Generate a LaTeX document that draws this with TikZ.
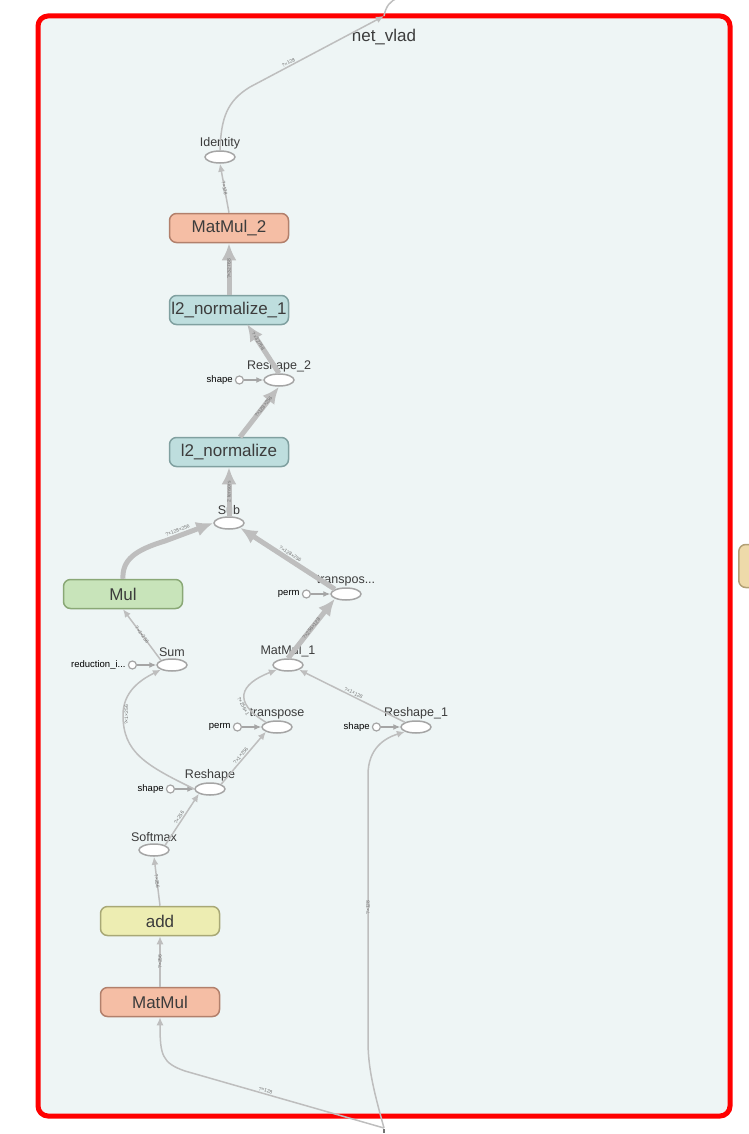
\documentclass[tikz,border=0pt]{standalone}
\usepackage{fontspec}
\setmainfont{Liberation Sans}
\usetikzlibrary{arrows.meta,shapes.geometric,positioning}

\definecolor{groupfill}{RGB}{238,245,245}
\definecolor{groupline}{RGB}{255,0,0}
\definecolor{edgegray}{RGB}{190,190,190}
\definecolor{opline}{RGB}{165,165,165}
\definecolor{txt}{RGB}{60,60,60}
\definecolor{matfill}{RGB}{245,190,165}
\definecolor{matline}{RGB}{178,128,108}
\definecolor{normfill}{RGB}{190,222,222}
\definecolor{normline}{RGB}{128,160,160}
\definecolor{mulfill}{RGB}{200,228,186}
\definecolor{mulline}{RGB}{138,168,118}
\definecolor{addfill}{RGB}{237,237,178}
\definecolor{addline}{RGB}{168,168,118}
\definecolor{extfill}{RGB}{238,218,170}
\definecolor{extline}{RGB}{178,160,118}

\begin{document}
\begin{tikzpicture}[
	x=1pt, y=-1pt,
	group/.style   = {draw=groupline, line width=5pt, fill=groupfill, rounded corners=10pt},
	meta/.style    = {draw, rounded corners=7pt, line width=1.5pt, minimum width=119pt, minimum height=29pt, inner xsep=1pt, text=txt, font=\fontsize{17}{17}\selectfont},
	matop/.style   = {meta, fill=matfill, draw=matline},
	normop/.style  = {meta, fill=normfill, draw=normline},
	mulop/.style   = {meta, fill=mulfill, draw=mulline},
	addop/.style   = {meta, fill=addfill, draw=addline},
	extop/.style   = {meta, fill=extfill, draw=extline, minimum width=60pt, minimum height=43pt},
	op/.style      = {ellipse, draw=opline, fill=white, line width=1.5pt, minimum width=30pt, minimum height=12pt, inner sep=0pt},
	every label/.style = {text=txt, inner sep=1pt, font=\fontsize{12.5}{12.5}\selectfont},
	label distance=0pt,
	const/.style   = {circle, draw=opline, fill=white, line width=1.2pt, minimum size=8pt, inner sep=0pt},
	constlabel/.style = {anchor=east, inner sep=2pt, font=\fontsize{9.5}{9.5}\selectfont},
	flow/.style    = {draw=edgegray, line width=1.5pt, -{Latex[length=8pt,width=7pt]}},
	bigflow/.style = {draw=edgegray, line width=5pt, -{Latex[length=17pt,width=15pt]}},
	elab/.style    = {sloped, inner sep=1pt, text=black!55, font=\fontsize{5}{5}\selectfont},
	]
	\useasboundingbox (0,0) rectangle (748,1134);

	% the net_vlad group
	\draw[group] (38,16) rectangle (730,1116);
	\node[text=txt, font=\fontsize{17}{17}\selectfont] (title) at (384,37) {net\_vlad};

	% node of the outer graph, cut by the page
	\node[extop, anchor=west] (ext) at (738,566) {};

	% main operations
	\node[matop]  (matmul2) at (229,228)  {MatMul\_2};
	\node[normop] (norm1)   at (229,310)  {l2\_normalize\_1};
	\node[normop] (norm)    at (229,452)  {l2\_normalize};
	\node[mulop]  (mul)     at (123,594)  {Mul};
	\node[addop]  (add)     at (160,921)  {add};
	\node[matop]  (matmul)  at (160,1002) {MatMul};

	% small operations
	\node[op, label=above:Identity]        (identity) at (220,157) {};
	\node[op, label=above:Reshape\_2]      (reshape2) at (279,380) {};
	\node[op, label=above:Sub]             (sub)      at (229,523) {};
	\node[op, label={above:transpos...}]   (transp1)  at (346,594) {};
	\node[op, label=above:Sum]             (sum)      at (172,665) {};
	\node[op, label=above:MatMul\_1]       (matmul1)  at (288,665) {};
	\node[op, label=above:transpose]       (transp)   at (277,727) {};
	\node[op, label=above:Reshape\_1]      (reshape1) at (416,727) {};
	\node[op, label=above:Reshape]         (reshape)  at (210,789) {};
	\node[op, label=above:Softmax]         (softmax)  at (154,850) {};

	% constants feeding the small operations
	\foreach \name/\target/\text in {c1/reshape2/shape, c2/transp1/perm, c3/sum/{reduction\_i...}, c4/transp/perm, c5/reshape1/shape, c6/reshape/shape}{
		\node[const, left=35pt of \target.center] (\name) {};
		\node[constlabel] (\name-l) at (\name.west) {\text};
		\draw[draw=opline, line width=1.2pt, -{Latex[length=7pt,width=6pt]}] (\name) -- (\target);
	}

	% ends of the group
	\coordinate (netout) at (384,16);
	\coordinate (netin)  at (384,1128);
	\draw[draw=black!55, line width=1.5pt] (384,1129) -- (384,1133);

	% heavy edges
	\draw[bigflow] (norm1.north) -- node[elab] {?×32768} (matmul2.south);
	\draw[bigflow] (reshape2.north) -- node[elab, pos=0.65] {?×32768} (247,324);
	\draw[bigflow] (240,437) -- node[elab, pos=0.6] {?×128×256} (reshape2.south);
	\draw[bigflow] (sub.north) -- node[elab] {2 tensors} (norm.south);
	\draw[bigflow] (mul.north) .. controls (122,560) and (135,550) .. (165,541) -- node[elab, above, pos=0.3] {?×128×256} (sub.west);
	\draw[bigflow] (transp1.north west) -- node[elab, above] {?×128×256} (sub.south east);
	\draw[bigflow] (matmul1.north) -- node[elab] {?×256×128} (transp1.south west);

	% light edges
	\draw[flow] (identity.north) .. controls (221,118) and (227,101) .. (250,87) -- node[elab, pos=0.3, above] {?×128} (netout);
	\draw[draw=edgegray, line width=1.5pt] (netout) .. controls (386,6) and (390,1) .. (398,-2);
	\draw[flow] (matmul2.north) -- node[elab] {?×128} (identity.south);
	\draw[flow] (sum.north west) -- node[elab] {?×1×256} (mul.south);
	\draw[flow] (reshape.west) .. controls (145,765) and (123,752) .. (123,715) .. controls (123,692) and (140,680) .. node[elab, pos=0, below] {?×1×256} (sum.south west);
	\draw[flow] (transp.north west) .. controls (232,702) and (240,684) .. node[elab, pos=0.3, below] {?×256×1} (matmul1.south west);
	\draw[flow] (reshape1.north west) -- node[elab, above] {?×1×128} (matmul1.south east);
	\draw[flow] (reshape.north east) -- node[elab, above] {?×1×256} (transp.south west);
	\draw[flow] (softmax.north east) -- node[elab, above] {?×256} (reshape.south west);
	\draw[flow] (add.north) -- node[elab] {?×256} (softmax.south);
	\draw[flow] (matmul.north) -- node[elab] {?×256} (add.south);
	\draw[flow] (netin) -- node[elab, above, pos=0.6] {?×128} (185,1071) .. controls (162,1063) and (160,1055) .. (matmul.south);
	\draw[flow] (netin) .. controls (372,1085) and (368,1065) .. (368,1040) -- node[elab] {?×128} (368,775) .. controls (368,748) and (385,738) .. (reshape1.south west);
\end{tikzpicture}
\end{document}
